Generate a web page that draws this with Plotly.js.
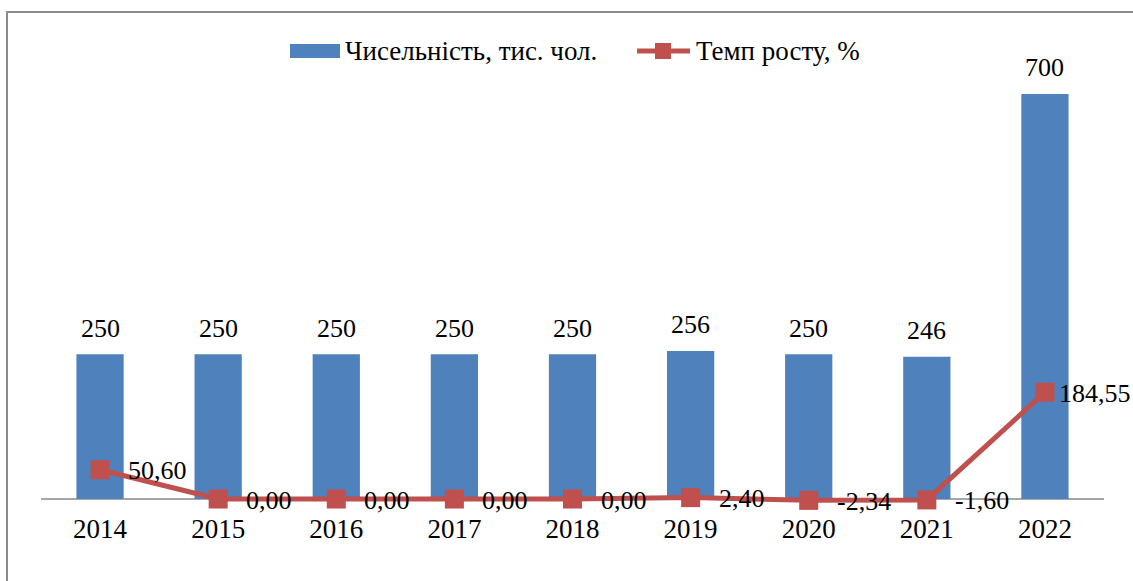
<!DOCTYPE html>
<html>
<head>
<meta charset="utf-8">
<script src="https://cdn.plot.ly/plotly-3.0.1.min.js"></script>
<style>
  html, body { margin: 0; padding: 0; overflow: hidden; background: #fff; }
  #wrap { position: absolute; left: 0; top: 0; width: 1133px; height: 581px; }
  #chart { position: absolute; left: 0; top: 0; width: 1133px; height: 581px; }
  #frame { position: absolute; left: 6px; top: 11px; width: 1300px; height: 800px;
           border: 2px solid #8c8c8c; pointer-events: none; }
</style>
</head>
<body>
<div id="wrap">
  <div id="chart"></div>
  <div id="frame"></div>
</div>
<script>
const years = ['2014', '2015', '2016', '2017', '2018', '2019', '2020', '2021', '2022'];
const headcount = [250, 250, 250, 250, 250, 256, 250, 246, 700];
const growthRate = [50.60, 0.00, 0.00, 0.00, 0.00, 2.40, -2.34, -1.60, 184.55];
const seriesNames = ['Чисельність, тис. чол.', 'Темп росту, %'];

const BLUE = '#4F81BD';
const RED = '#C0504D';
const FONT = 'Liberation Serif, Times New Roman, serif';

const W = 1133, H = 581;
const M = { l: 41, r: 29, t: 60, b: 71 };
const PW = W - M.l - M.r, PH = H - M.t - M.b;
const px2x = px => (px - M.l) / PW;
const py2y = py => (H - M.b - py) / PH;

const fmt = v => v.toFixed(2).replace('.', ',');
const labelFont = { family: FONT, size: 26, color: '#000' };

const traces = [
  {
    type: 'bar',
    x: years,
    y: headcount,
    name: seriesNames[0],
    marker: { color: BLUE },
    showlegend: false,
    hoverinfo: 'x+y'
  },
  {
    type: 'scatter',
    mode: 'lines+markers',
    x: years,
    y: growthRate,
    name: seriesNames[1],
    line: { color: RED, width: 5 },
    marker: { color: RED, symbol: 'square', size: 19 },
    cliponaxis: false,
    showlegend: false
  }
];

// category axis: annotations are placed by category index
const barLabels = years.map((yr, i) => ({
  xref: 'x', yref: 'y', x: i, y: headcount[i],
  xanchor: 'center', yanchor: 'middle', yshift: 26,
  showarrow: false, text: String(headcount[i]), font: labelFont
}));

const last = years.length - 1;
const lineLabels = years.map((yr, i) => ({
  xref: 'x', yref: 'y', x: i, y: growthRate[i],
  xanchor: 'left', yanchor: 'middle',
  xshift: i === last ? 12 : 26, yshift: -1,
  showarrow: false, text: fmt(growthRate[i]), font: labelFont
}));

const layout = {
  width: W, height: H,
  margin: M,
  paper_bgcolor: '#fff',
  plot_bgcolor: 'rgba(0,0,0,0)',
  font: { family: FONT, size: 27, color: '#000' },
  bargap: 0.6,
  showlegend: false,
  xaxis: {
    type: 'category',
    categoryarray: years,
    range: [-0.5, years.length - 0.5],
    showgrid: false, zeroline: false, showline: false, ticks: '',
    tickfont: { family: FONT, size: 27, color: '#000' },
    fixedrange: true
  },
  yaxis: {
    range: [-19, 758.7],
    visible: false,
    showgrid: false, zeroline: false,
    fixedrange: true
  },
  shapes: [
    { type: 'line', xref: 'paper', yref: 'y', x0: 0, x1: 1, y0: 0, y1: 0,
      line: { color: '#a6a6a6', width: 2 }, layer: 'below' },
    // legend symbols
    { type: 'rect', xref: 'paper', yref: 'paper',
      x0: px2x(290), x1: px2x(340), y0: py2y(58), y1: py2y(44),
      fillcolor: BLUE, line: { width: 0 } },
    { type: 'line', xref: 'paper', yref: 'paper',
      x0: px2x(637), x1: px2x(690), y0: py2y(51), y1: py2y(51),
      line: { color: RED, width: 5 } },
    { type: 'rect', xref: 'paper', yref: 'paper',
      x0: px2x(655), x1: px2x(671), y0: py2y(59), y1: py2y(43),
      fillcolor: RED, line: { width: 0 } }
  ],
  annotations: [
    { xref: 'paper', yref: 'paper', x: px2x(343), y: py2y(51),
      xanchor: 'left', yanchor: 'middle', showarrow: false,
      text: seriesNames[0], font: { family: FONT, size: 27, color: '#000' } },
    { xref: 'paper', yref: 'paper', x: px2x(694), y: py2y(51),
      xanchor: 'left', yanchor: 'middle', showarrow: false,
      text: seriesNames[1], font: { family: FONT, size: 27, color: '#000' } }
  ].concat(barLabels, lineLabels)
};

Plotly.newPlot('chart', traces, layout, { displayModeBar: false, staticPlot: true });
</script>
</body>
</html>
